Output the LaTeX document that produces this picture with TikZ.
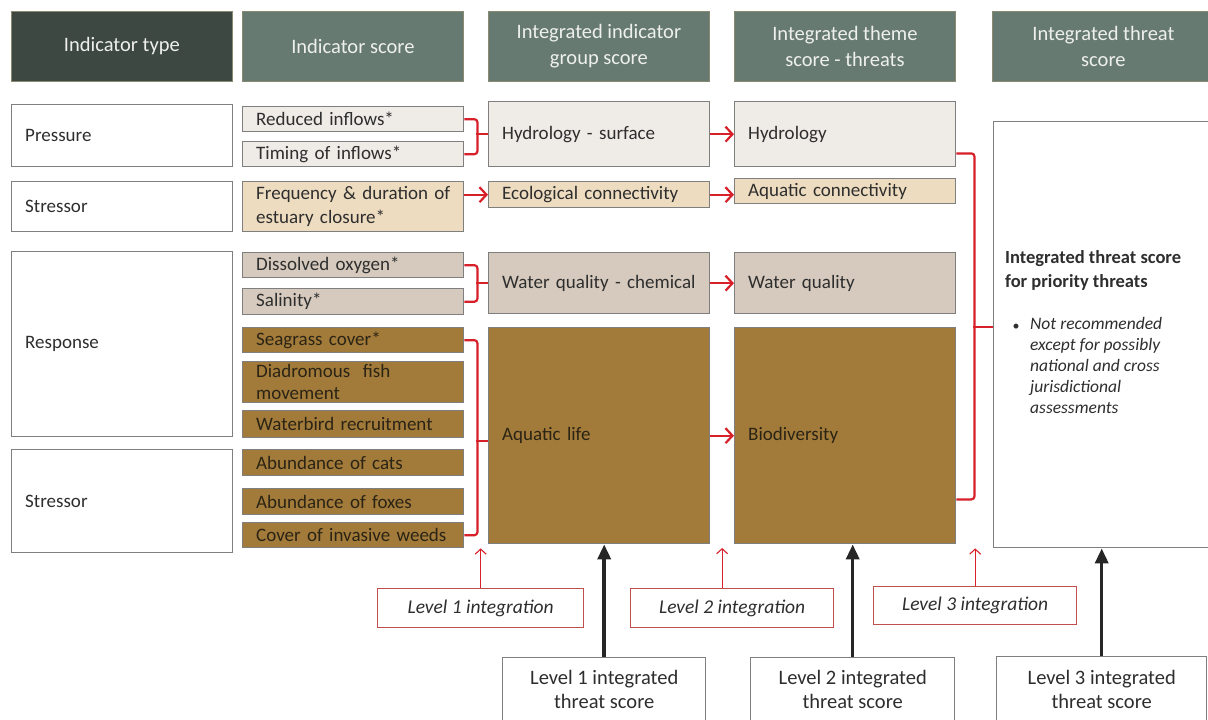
\documentclass[tikz,border=0pt]{standalone}
\usepackage{fontspec}
\setmainfont{Carlito}
\usetikzlibrary{arrows.meta,calc}

\definecolor{hdrdark}{HTML}{3E4842}
\definecolor{hdrfill}{HTML}{677A72}
\definecolor{hdrline}{HTML}{8A8A72}
\definecolor{hdrtext}{HTML}{EEF0EC}
\definecolor{boxline}{HTML}{7F7F7F}
\definecolor{fillA}{HTML}{EFEBE6}
\definecolor{fillB}{HTML}{EDDCC0}
\definecolor{fillC}{HTML}{D5CABD}
\definecolor{fillD}{HTML}{A27B3A}
\definecolor{linkred}{HTML}{D7202A}
\definecolor{lvlred}{HTML}{C0504D}
\definecolor{ink}{HTML}{2E2E2E}
\definecolor{inkD}{HTML}{2B2415}
\definecolor{arrowblack}{HTML}{262626}

\tikzset{
  hdr/.style={draw=hdrline, line width=0.8pt, fill=hdrfill, minimum width=221pt,
    minimum height=70pt, anchor=north west, align=center, text=hdrtext,
    font=\fontsize{20.5}{26}\selectfont, inner sep=0pt},
  cell/.style={draw=boxline, line width=1.4pt, anchor=north west, text width=194pt,
    align=left, inner xsep=13.5pt, inner ysep=0pt,
    font=\fontsize{19}{24}\selectfont, text=ink},
  fA/.style={cell, fill=fillA},
  fB/.style={cell, fill=fillB},
  fC/.style={cell, fill=fillC},
  fD/.style={cell, fill=fillD, text=inkD},
  fW/.style={cell, fill=white},
  linkline/.style={draw=linkred, line width=2.2pt, rounded corners=3pt},
  linkarrow/.style={draw=linkred, line width=2.2pt, -{Straight Barb[length=7pt,width=15pt]}},
  lvl/.style={draw=lvlred, line width=1.3pt, fill=white, minimum height=39pt,
    anchor=north west, font=\itshape\fontsize{19.5}{24}\selectfont, text=ink, inner sep=0pt},
  lvlarrow/.style={draw=linkred, line width=1.1pt, -{Straight Barb[length=5pt,width=11pt]}},
  score/.style={draw=boxline, line width=1.4pt, fill=white, minimum height=64pt,
    anchor=north west, align=center, font=\fontsize{20.5}{24}\selectfont, text=ink, inner sep=0pt},
  scorearrow/.style={draw=arrowblack, line width=3.5pt, -{Triangle[length=15pt,width=13pt]}}
}

\begin{document}
\begin{tikzpicture}[x=1pt,y=-1pt]
\fill[white] (0,0) rectangle (1208,720);
\useasboundingbox (0,0) rectangle (1208,720);

% column headers
\node[hdr, fill=hdrdark] (h1) at (11,11) {Indicator type};
\node[hdr] (h2) at (242,11) {Indicator score};
\node[hdr] (h3) at (488,11) {Integrated indicator\\group score};
\node[hdr] (h4) at (734,11) {Integrated theme\\score - threats};
\node[hdr, minimum width=222pt] (h5) at (992,11) {Integrated threat\\score};

% indicator types
\node[fW, minimum height=62pt] (pr) at (11,104) {Pressure};
\node[fW, minimum height=50pt] (st1) at (11,181) {Stressor};
\node[fW, minimum height=185pt] (re) at (11,251) {Response};
\node[fW, minimum height=103pt] (st2) at (11,449) {Stressor};

% indicator scores
\node[fA, minimum height=25pt] (ri) at (242,106) {Reduced inflows*};
\node[fA, minimum height=25pt] (ti) at (242,141) {Timing of inflows*};
\node[fB, minimum height=50pt] (fd) at (242,181) {\mbox{Frequency \& duration of}\\estuary closure*};
\node[fC, minimum height=25pt] (do) at (242,252) {Dissolved oxygen*};
\node[fC, minimum height=26pt] (sa) at (242,288) {Salinity*};
\node[fD, minimum height=25pt] (sg) at (242,327) {Seagrass cover*};
\node[fD, minimum height=41pt, font=\fontsize{19}{22}\selectfont] (dm) at (242,361) {Diadromous~~fish\\movement};
\node[fD, minimum height=27pt] (wb) at (242,410) {Waterbird recruitment};
\node[fD, minimum height=26pt] (ca) at (242,449) {Abundance of cats};
\node[fD, minimum height=26pt] (fo) at (242,488) {Abundance of foxes};
\node[fD, minimum height=25pt] (cw) at (242,522) {Cover of invasive weeds};

% integrated indicator group scores
\node[fA, minimum height=65pt] (hs) at (488,101) {Hydrology - surface};
\node[fB, minimum height=26pt] (ec) at (488,181) {Ecological connectivity};
\node[fC, minimum height=61pt] (wq) at (488,252) {Water quality - chemical};
\node[fD, minimum height=216pt] (al) at (488,327) {Aquatic life};

% integrated theme scores
\node[fA, minimum height=65pt] (hy) at (734,101) {Hydrology};
\node[fB, minimum height=25pt] (ac) at (734,178) {Aquatic connectivity};
\node[fC, minimum height=61pt] (wqt) at (734,252) {Water quality};
\node[fD, minimum height=216pt] (bd) at (734,327) {Biodiversity};

% integrated threat score
\node[fW, text width=1pt, minimum width=221pt, minimum height=426pt] (tb) at (993,121) {};
\node[anchor=west, align=left, text=ink, inner sep=0pt,
  font=\bfseries\fontsize{18.5}{24}\selectfont] (tbt) at (1005,270) {Integrated threat score\\for priority threats};
\node[anchor=center, text=ink, inner sep=0pt, font=\fontsize{14}{16}\selectfont] (tbb) at (1016,327) {\textbullet};
\node[anchor=north west, align=left, text=ink, inner sep=0pt,
  font=\itshape\fontsize{17.5}{21}\selectfont] (tbn) at (1030,317) {Not recommended\\except for possibly\\national and cross\\jurisdictional\\assessments};

% level 1 brackets
\draw[linkline] (ri.east) -- ++(13,0) |- (ti.east);
\draw[linkline] (hs.west) -- ++(-12,0);
\draw[linkline] (do.east) -- ++(13,0) |- (sa.east);
\draw[linkline] (wq.west) -- ++(-12,0);
\draw[linkline] (sg.east) -- ++(13,0) |- (cw.east);
\draw[linkline] ($(al.west)+(0,5)$) -- ++(-12,0);
\draw[linkarrow] (fd.east |- ec.west) -- (ec.west);

% level 2 arrows
\draw[linkarrow] (hs.east) -- (hy.west);
\draw[linkarrow] (ec.east) -- (ec.east -| ac.west);
\draw[linkarrow] (wq.east) -- (wqt.west);
\draw[linkarrow] (al.east) -- (bd.west);

% level 3 bracket
\draw[linkline] ($(hy.south east)+(0,-14)$) -- ++(18,0) |- ($(bd.south east)+(0,-45)$);
\draw[linkline] ($(tb.west)+(0,-8)$) -- ++(-20,0);

% integration level labels
\node[lvl, minimum width=206pt] (l1i) at (377,588) {Level 1 integration};
\node[lvl, minimum width=203pt] (l2i) at (630,588) {Level 2 integration};
\node[lvl, minimum width=203pt, minimum height=38pt] (l3i) at (873,586) {Level 3 integration};
\draw[lvlarrow] (l1i.north) -- (l1i.north |- cw.south);
\draw[lvlarrow] ($(l2i.north)+(-10,0)$) -- ++(0,-40);
\draw[lvlarrow] (l3i.north) -- (l3i.north |- tb.south);

% integrated threat score levels
\node[score, minimum width=203pt] (l1s) at (502,657) {Level 1 integrated\\threat score};
\node[score, minimum width=204pt] (l2s) at (750,657) {Level 2 integrated\\threat score};
\node[score, minimum width=210pt, minimum height=66pt] (l3s) at (996,656) {Level 3 integrated\\threat score};
\draw[scorearrow] (l1s.north) -- (l1s.north |- al.south);
\draw[scorearrow] (l2s.north) -- (l2s.north |- bd.south);
\draw[scorearrow] (l3s.north) -- (l3s.north |- tb.south);
\end{tikzpicture}
\end{document}
